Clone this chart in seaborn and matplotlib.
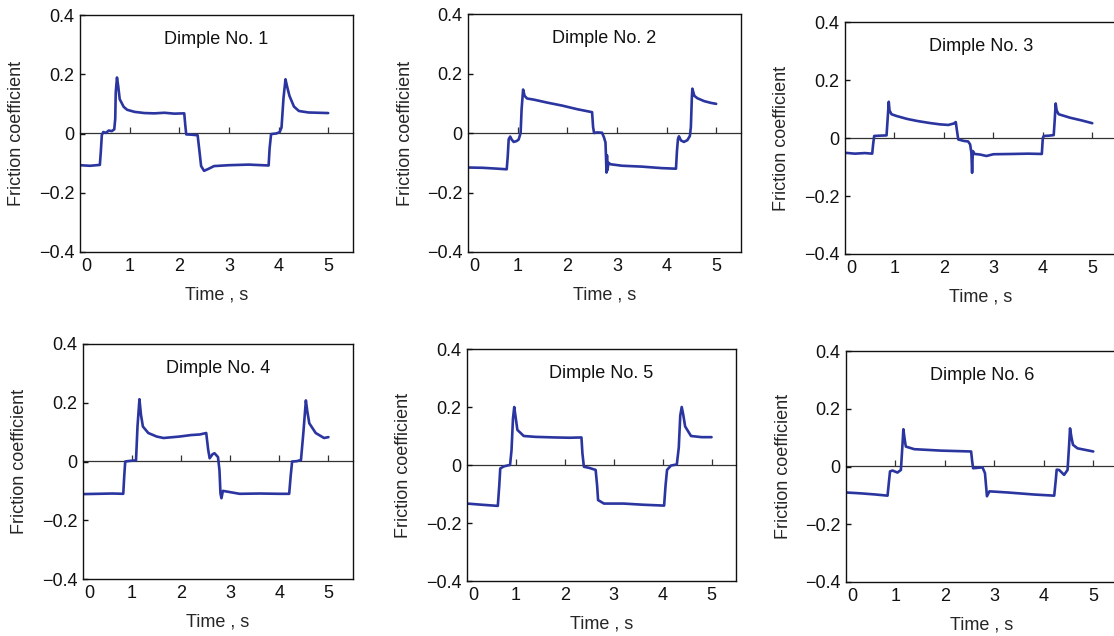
import matplotlib
matplotlib.use("Agg")
import matplotlib.pyplot as plt
import matplotlib.transforms as mtransforms
import seaborn as sns
import numpy as np

# ---------------- data ----------------
titles = ["Dimple No. 1", "Dimple No. 2", "Dimple No. 3",
          "Dimple No. 4", "Dimple No. 5", "Dimple No. 6"]

t1 = [0.0, 0.20, 0.40, 0.42, 0.44, 0.47, 0.52, 0.58, 0.64, 0.69, 0.71, 0.72, 0.745, 0.77, 0.80, 0.88,
      0.95, 1.1, 1.3, 1.5, 1.7, 1.9, 2.1, 2.12, 2.14, 2.25, 2.37, 2.40, 2.44, 2.50, 2.58, 2.7, 3.0, 3.4,
      3.8, 3.82, 3.85, 3.95, 4.02, 4.06, 4.10, 4.14, 4.17, 4.22, 4.31, 4.41, 4.6, 4.8, 5.0]
f1 = [-0.107, -0.109, -0.106, -0.06, -0.005, 0.005, 0.002, 0.010, 0.008, 0.014, 0.05, 0.138, 0.189, 0.16,
      0.116, 0.090, 0.080, 0.073, 0.069, 0.068, 0.070, 0.067, 0.068, 0.03, -0.003, -0.004, -0.006, -0.05,
      -0.11, -0.126, -0.120, -0.110, -0.107, -0.105, -0.108, -0.05, -0.002, 0.0, 0.004, 0.02, 0.12, 0.183,
      0.16, 0.127, 0.091, 0.076, 0.071, 0.070, 0.069]

t2 = [0.0, 0.3, 0.6, 0.78, 0.80, 0.82, 0.85, 0.88, 0.92, 0.98, 1.02, 1.06, 1.08, 1.11, 1.14, 1.19, 1.33,
      1.6, 1.9, 2.2, 2.50, 2.52, 2.54, 2.6, 2.70, 2.74, 2.77, 2.78, 2.79, 2.80, 2.81, 2.83, 2.87, 3.1, 3.5,
      3.9, 4.19, 4.21, 4.23, 4.25, 4.29, 4.35, 4.42, 4.47, 4.49, 4.51, 4.52, 4.56, 4.62, 4.76, 4.9, 5.0]
f2 = [-0.116, -0.117, -0.120, -0.122, -0.08, -0.021, -0.012, -0.022, -0.030, -0.027, -0.022, 0.0, 0.08,
      0.146, 0.125, 0.116, 0.112, 0.102, 0.092, 0.080, 0.070, 0.02, 0.0, 0.002, 0.001, -0.015, -0.032,
      -0.08, -0.133, -0.075, -0.125, -0.100, -0.105, -0.110, -0.113, -0.118, -0.120, -0.06, -0.020, -0.011,
      -0.025, -0.030, -0.024, -0.010, 0.02, 0.12, 0.149, 0.125, 0.117, 0.107, 0.101, 0.098]

t3 = [0.0, 0.2, 0.4, 0.55, 0.57, 0.59, 0.7, 0.84, 0.86, 0.885, 0.90, 0.94, 1.04, 1.25, 1.45, 1.7, 1.92,
      2.09, 2.2, 2.24, 2.26, 2.29, 2.4, 2.49, 2.53, 2.555, 2.57, 2.585, 2.62, 2.73, 2.86, 3.0, 3.4, 3.7,
      3.98, 4.0, 4.02, 4.12, 4.22, 4.24, 4.26, 4.28, 4.32, 4.55, 4.8, 5.0]
f3 = [-0.051, -0.054, -0.052, -0.054, -0.02, 0.007, 0.008, 0.009, 0.06, 0.125, 0.095, 0.082, 0.076, 0.066,
      0.059, 0.052, 0.047, 0.045, 0.050, 0.055, 0.03, -0.005, -0.010, -0.012, -0.022, -0.05, -0.12, -0.045,
      -0.055, -0.057, -0.062, -0.056, -0.055, -0.054, -0.055, 0.0, 0.007, 0.008, 0.010, 0.06, 0.119, 0.095,
      0.082, 0.070, 0.060, 0.051]

t4 = [0.0, 0.3, 0.6, 0.82, 0.84, 0.86, 0.95, 1.08, 1.11, 1.15, 1.18, 1.22, 1.33, 1.50, 1.64, 1.97, 2.2,
      2.38, 2.51, 2.55, 2.58, 2.64, 2.68, 2.75, 2.78, 2.80, 2.82, 2.85, 2.92, 3.19, 3.6, 4.0, 4.20, 4.23,
      4.26, 4.35, 4.44, 4.49, 4.54, 4.57, 4.61, 4.74, 4.91, 5.0]
f4 = [-0.111, -0.110, -0.109, -0.110, -0.05, 0.0, 0.002, 0.004, 0.119, 0.212, 0.16, 0.119, 0.097, 0.085,
      0.080, 0.085, 0.090, 0.092, 0.097, 0.04, 0.011, 0.025, 0.028, 0.015, -0.03, -0.108, -0.125, -0.100,
      -0.102, -0.110, -0.109, -0.110, -0.110, -0.05, 0.0, 0.001, 0.005, 0.10, 0.208, 0.17, 0.13, 0.097,
      0.080, 0.083]

t5 = [0.0, 0.3, 0.63, 0.66, 0.68, 0.75, 0.82, 0.88, 0.91, 0.94, 0.966, 0.99, 1.03, 1.16, 1.4, 1.8, 2.1,
      2.34, 2.36, 2.39, 2.5, 2.63, 2.66, 2.68, 2.80, 3.2, 3.6, 4.03, 4.06, 4.09, 4.17, 4.29, 4.33, 4.36,
      4.39, 4.42, 4.46, 4.58, 4.8, 5.0]
f5 = [-0.133, -0.137, -0.141, -0.07, -0.012, -0.005, -0.002, 0.0, 0.05, 0.16, 0.200, 0.17, 0.121, 0.100,
      0.097, 0.095, 0.094, 0.095, 0.04, -0.006, -0.010, -0.017, -0.07, -0.121, -0.133, -0.133, -0.137,
      -0.140, -0.07, -0.017, -0.002, 0.002, 0.06, 0.17, 0.200, 0.175, 0.133, 0.100, 0.096, 0.096]

t6 = [0.0, 0.3, 0.6, 0.84, 0.87, 0.89, 0.94, 1.04, 1.11, 1.14, 1.16, 1.19, 1.21, 1.38, 1.92, 2.53, 2.55,
      2.57, 2.76, 2.81, 2.85, 2.90, 3.27, 3.80, 4.21, 4.24, 4.26, 4.31, 4.41, 4.48, 4.51, 4.53, 4.56, 4.59,
      4.68, 5.0]
f6 = [-0.090, -0.093, -0.097, -0.101, -0.05, -0.017, -0.014, -0.021, -0.012, 0.07, 0.129, 0.09, 0.069,
      0.060, 0.055, 0.052, 0.02, -0.006, -0.003, -0.023, -0.103, -0.086, -0.090, -0.097, -0.101, -0.05,
      -0.011, -0.012, -0.029, -0.012, 0.07, 0.132, 0.10, 0.075, 0.063, 0.052]

times = [t1, t2, t3, t4, t5, t6]
frictions = [f1, f2, f3, f4, f5, f6]

y_ticks = [-0.4, -0.2, 0.0, 0.2, 0.4]
y_ticklabels = ["\u22120.4", "\u22120.2", "0", "0.2", "0.4"]
x_ticks = [0, 1, 2, 3, 4, 5]
x_ticklabels = ["0", "1", "2", "3", "4", "5"]

# ---------------- style ----------------
sns.set_style("ticks")
plt.rcParams["font.family"] = ["Liberation Sans", "DejaVu Sans"]
plt.rcParams["axes.unicode_minus"] = True

W, H = 1114, 636
fig = plt.figure(figsize=(W / 100, H / 100), dpi=100)

# axes boxes in pixels: left, top, right, bottom
boxes = [(80, 15, 353, 252), (468, 14, 741, 252), (845, 22, 1117, 254),
         (83, 344, 353, 579), (467, 349, 736, 581), (846, 351, 1118, 582)]

line_color = "#2B35A0"
FS = 13

for i, (l, t, r, b) in enumerate(boxes):
    ax = fig.add_axes([l / W, 1 - b / H, (r - l) / W, (b - t) / H])
    sns.lineplot(x=times[i], y=frictions[i], ax=ax, color=line_color, linewidth=1.9,
                 sort=False, estimator=None)
    ax.set_xlim(0, 5.5)
    ax.set_ylim(-0.4, 0.4)
    ax.set_yticks(y_ticks)
    ax.set_yticklabels(y_ticklabels, fontsize=FS)
    ax.set_xticks(x_ticks)
    ax.set_xticklabels(x_ticklabels, fontsize=FS)
    ax.tick_params(axis="x", length=0, pad=4.5, colors="#111111")
    ax.tick_params(axis="y", direction="in", length=3.5, width=1, pad=4, colors="#111111",
                   left=True, right=False)
    for s in ax.spines.values():
        s.set_visible(True)
        s.set_linewidth(1.0)
        s.set_color("#111111")

    # nudge the "0" x tick label slightly right, as in the reference
    lbl0 = ax.get_xticklabels()[0]
    lbl0.set_transform(lbl0.get_transform() +
                       mtransforms.ScaledTranslation(6 / 100, 0, fig.dpi_scale_trans))

    # zero line with small ticks
    sec = ax.secondary_xaxis(0.5)
    sec.set_xticks([1, 2, 3, 4, 5])
    sec.tick_params(direction="out", length=4, width=0.9, labeltop=False, labelbottom=False,
                    colors="#333333")
    for s in sec.spines.values():
        s.set_linewidth(0.9)
        s.set_color("#333333")

    ax.set_xlabel("Time , s", fontsize=FS)
    ax.set_ylabel("Friction coefficient", fontsize=FS)
    hpx = b - t
    wpx = r - l
    ax.xaxis.label.set_va("center")
    ax.xaxis.set_label_coords(0.5, -43 / hpx)
    ax.yaxis.label.set_va("center")
    ax.yaxis.set_label_coords(-63 / wpx, 0.5)

    ax.text(0.5, 0.895, titles[i], transform=ax.transAxes, ha="center", va="center",
            fontsize=FS, color="#111111")

fig.savefig("out.png", dpi=100)
